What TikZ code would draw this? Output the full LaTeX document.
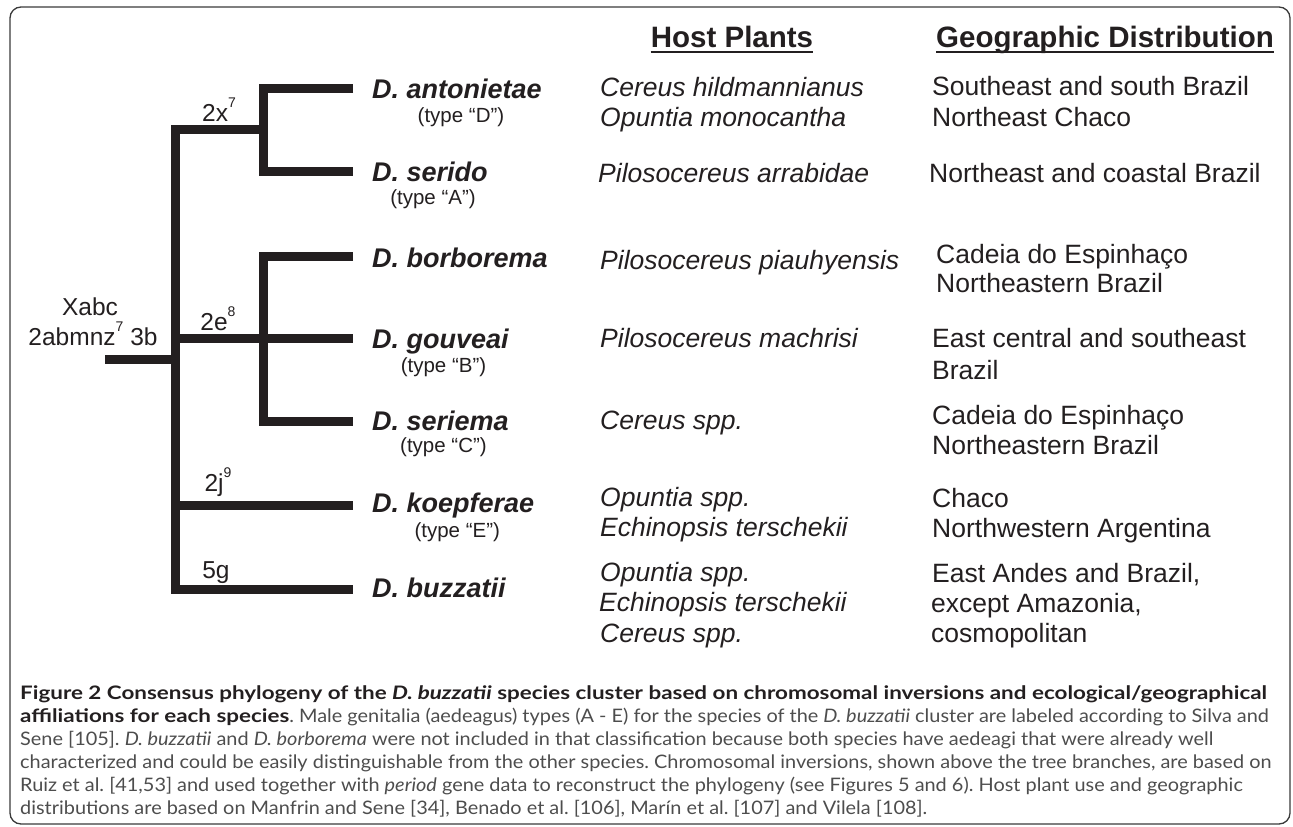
\documentclass[tikz,border=0pt]{standalone}
\usepackage{fontspec}
\setmainfont{Liberation Sans}
\newfontfamily\capfont{Lato}[UprightFeatures={FakeStretch=1.07}, ItalicFeatures={FakeStretch=1.07},
  BoldFeatures={FakeStretch=1.205}, BoldItalicFeatures={FakeStretch=1.205}]
\usetikzlibrary{positioning}

\definecolor{ink}{HTML}{231F20}
\definecolor{capgray}{HTML}{4D4D4D}
\definecolor{framegray}{HTML}{3A3A3A}

\newcommand{\fsz}[1]{\fontsize{#1}{#1}\selectfont}
\newcommand{\sups}[1]{\raisebox{14pt}{\fsz{14}#1}}

\tikzset{
  branch/.style={line width=9pt, ink},
  txt/.style={inner sep=0pt, text depth=0pt, text=ink},
  brlabel/.style={txt, font=\fsz{24.5}, text height=17.5pt},
  species/.style={txt, anchor=west, font=\fsz{27}\bfseries\itshape, text height=19.3pt},
  typelbl/.style={txt, font=\fsz{20.5}, text height=14.7pt},
  host/.style={txt, anchor=west, font=\fsz{26.5}\itshape, text height=19pt},
  geo/.style={txt, anchor=west, font=\fsz{26.5}, text height=19pt},
  header/.style={txt, font=\fsz{29.5}\bfseries, text height=21pt},
  caption/.style={inner sep=0pt, align=left, text=capgray,
    font=\capfont\fontsize{18.6}{23}\selectfont\frenchspacing}
}

\begin{document}
\begin{tikzpicture}[x=1pt, y=-1pt]
  \useasboundingbox (0,0) rectangle (1293,827);
  \draw[framegray, line width=1.3pt, rounded corners=11pt] (10,7) rectangle (1290,824);

  % tree
  \coordinate (root) at (105,359);
  \coordinate (base) at (175,359);
  \coordinate (top) at (175,129);
  \coordinate (c1) at (263,129);
  \coordinate (c2) at (263,338);
  \coordinate (t1) at (353,88);
  \coordinate (t2) at (353,171);
  \coordinate (t3) at (353,256);
  \coordinate (t4) at (353,338);
  \coordinate (t5) at (353,421);
  \coordinate (t6) at (353,505);
  \coordinate (t7) at (353,589);

  \draw[branch] (root) -- (base);
  \draw[branch] (c1) -- (top) |- (t7);
  \draw[branch] (t1) -| (c1) |- (t2);
  \draw[branch] (t3) -| (c2) |- (t5);
  \draw[branch] (top |- t4) -- (t4);
  \draw[branch] (top |- t6) -- (t6);

  % inversions above the branches
  \node[brlabel] (inv0a) at (90,307) {Xabc};
  \node[brlabel] (inv0b) at (93,337) {2abmnz\sups{7} 3b};
  \node[brlabel] (inv1) at (219,113) {2x\sups{7}};
  \node[brlabel] (inv2) at (218,322) {2e\sups{8}};
  \node[brlabel] (inv3) at (218,483) {2j\sups{9}};
  \node[brlabel] (inv4) at (216,570) {5g};

  % species
  \node[species] (ant) at (372,89) {D. antonietae};
  \node[species] (ser) at (372,172) {D. serido};
  \node[species] (bor) at (372,258) {D. borborema};
  \node[species] (gou) at (372,339) {D. gouveai};
  \node[species] (sri) at (372,421) {D. seriema};
  \node[species] (koe) at (372,503) {D. koepferae};
  \node[species] (buz) at (372,588) {D. buzzatii};

  \node[typelbl] (antT) at ([xshift=4pt, yshift=-26pt]ant.center) {(type “D”)};
  \node[typelbl] (serT) at ([xshift=3pt, yshift=-25pt]ser.center) {(type “A”)};
  \node[typelbl] (gouT) at ([xshift=3pt, yshift=-26pt]gou.center) {(type “B”)};
  \node[typelbl] (sriT) at ([xshift=3pt, yshift=-24pt]sri.center) {(type “C”)};
  \node[typelbl] (koeT) at ([xshift=4pt, yshift=-27pt]koe.center) {(type “E”)};

  % column headers
  \node[header] (hostH) at (732,37) {Host Plants};
  \node[header] (geoH) at (1105,37) {Geographic Distribution};
  \draw[ink, line width=2pt] ([yshift=-4pt]hostH.south west) -- ([yshift=-4pt]hostH.south east);
  \draw[ink, line width=2pt] ([yshift=-4pt]geoH.south west) -- ([yshift=-4pt]geoH.south east);

  % host plants
  \node[host] (hp1a) at (600,87) {Cereus hildmannianus};
  \node[host] (hp1b) at (600,117) {Opuntia monocantha};
  \node[host] (hp2) at (598,173) {Pilosocereus arrabidae};
  \node[host] (hp3) at (600,260) {Pilosocereus piauhyensis};
  \node[host] (hp4) at (600,338) {Pilosocereus machrisi};
  \node[host] (hp5) at (600,420) {Cereus spp.};
  \node[host] (hp6a) at (600,497) {Opuntia spp.};
  \node[host] (hp6b) at (600,527) {Echinopsis terschekii};
  \node[host] (hp7a) at (600,572) {Opuntia spp.};
  \node[host] (hp7b) at (599,602) {Echinopsis terschekii};
  \node[host] (hp7c) at (600,633) {Cereus spp.};

  % geographic distribution
  \node[geo] (gd1a) at (932,86) {Southeast and south Brazil};
  \node[geo] (gd1b) at (932,117) {Northeast Chaco};
  \node[geo] (gd2) at (929,173) {Northeast and coastal Brazil};
  \node[geo] (gd3a) at (936,254) {Cadeia do Espinhaço};
  \node[geo] (gd3b) at (936,283) {Northeastern Brazil};
  \node[geo] (gd4a) at (932,338) {East central and southeast};
  \node[geo] (gd4b) at (932,370) {Brazil};
  \node[geo] (gd5a) at (932,415) {Cadeia do Espinhaço};
  \node[geo] (gd5b) at (932,445) {Northeastern Brazil};
  \node[geo] (gd6a) at (932,498) {Chaco};
  \node[geo] (gd6b) at (932,528) {Northwestern Argentina};
  \node[geo] (gd7a) at (932,573) {East Andes and Brazil,};
  \node[geo] (gd7b) at (931,603) {except Amazonia,};
  \node[geo] (gd7c) at (931,633) {cosmopolitan};

  % caption
  \node[caption, anchor=north west] (cap) at (20,685) {%
    {\color{ink}\bfseries Figure 2 Consensus phylogeny of the \textit{D. buzzatii} species cluster based on chromosomal inversions and ecological/geographical}\\
    {\color{ink}\bfseries affiliations for each species}. Male genitalia (aedeagus) types (A - E) for the species of the \textit{D. buzzatii} cluster are labeled according to Silva and\\
    Sene [105]. \textit{D. buzzatii} and \textit{D. borborema} were not included in that classification because both species have aedeagi that were already well\\
    characterized and could be easily distinguishable from the other species. Chromosomal inversions, shown above the tree branches, are based on\\
    Ruiz et al. [41,53] and used together with \textit{period} gene data to reconstruct the phylogeny (see Figures 5 and 6). Host plant use and geographic\\
    distributions are based on Manfrin and Sene [34], Benado et al. [106], Marín et al. [107] and Vilela [108].};
\end{tikzpicture}
\end{document}
